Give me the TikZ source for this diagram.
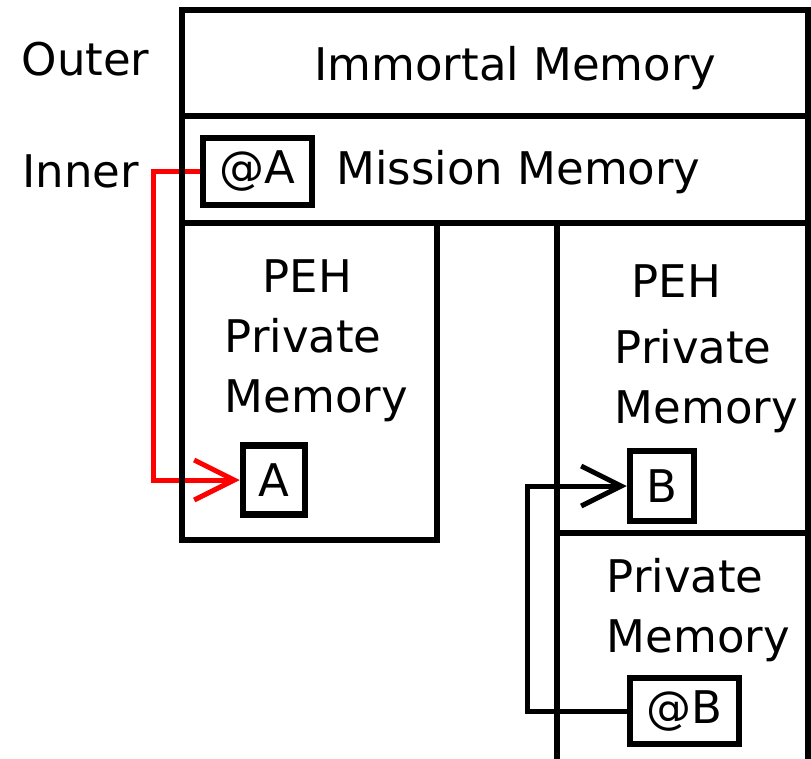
\documentclass[tikz,border=0pt]{standalone}
\usepackage{fontspec}
\setmainfont{DejaVu Sans}
\usetikzlibrary{arrows.meta}
\newcommand{\memfont}{\fontsize{45}{60}\selectfont}

\tikzset{
	region/.style={draw, line width=6.5pt, inner sep=0pt, outer sep=0pt},
	refbox/.style={draw, line width=6.5pt, inner sep=0pt, font=\memfont},
	lbl/.style={inner sep=0pt, font=\memfont, align=left},
	link/.style={line width=5pt, line join=miter, -{Straight Barb[length=40pt,width=40pt]}}
}

\begin{document}
\begin{tikzpicture}[x=1pt, y=-1pt]
		%%%%% START %%%%%
		\useasboundingbox (0, 0) rectangle (811, 758);
		\clip (0, 0) rectangle (811, 758);
		
		% references
		\node[refbox, minimum width=109pt, minimum height=67pt] (atA) at (257.5, 171.5) {@A};
		\node[refbox, minimum width=62pt, minimum height=69pt] (A) at (274, 480) {A};
		\node[refbox, minimum width=64pt, minimum height=70pt] (B) at (662, 486) {B};
		\node[refbox, minimum width=109pt, minimum height=66pt] (atB) at (684.5, 711) {@B};
		
		\draw[link, red] (atA.west) -- ++(-46, 0) |- (A.west);
		\draw[link, black] (atB.west) -- ++(-99, 0) |- (B.west);
		
		% memory areas
		\node[region, minimum width=626pt, minimum height=106pt] (immortal) at (495, 63) {};
		\node[region, minimum width=626pt, minimum height=107pt] (mission) at (495, 169.5) {};
		\node[region, minimum width=255pt, minimum height=317pt] (pehA) at (309.5, 381.5) {};
		\node[region, minimum width=251pt, minimum height=310pt] (pehB) at (682.5, 378) {};
		\node[region, minimum width=251pt, minimum height=257pt] (privB) at (682.5, 661.5) {};
		
		% texts (base = last line)
		\node[lbl, anchor=base west] (outer) at (21.5, 75) {Outer};
		\node[lbl, anchor=base west] (inner) at (22, 187) {Inner};
		\node[lbl, anchor=base] (immortalText) at (515.5, 80) {Immortal Memory};
		\node[lbl, anchor=base] (missionText) at (518.5, 184) {Mission Memory};
		\node[lbl, anchor=base west] (pehAText) at (224.5, 412) {\hspace*{38pt}PEH\\Private\\Memory};
		\node[lbl, anchor=base west] (pehBText) at (614.5, 423) {\hspace*{17pt}PEH\\[6pt]Private\\Memory};
		\node[lbl, anchor=base west] (privBText) at (606.5, 652) {Private\\Memory};
		%%%%% END %%%%%
\end{tikzpicture}
\end{document}
